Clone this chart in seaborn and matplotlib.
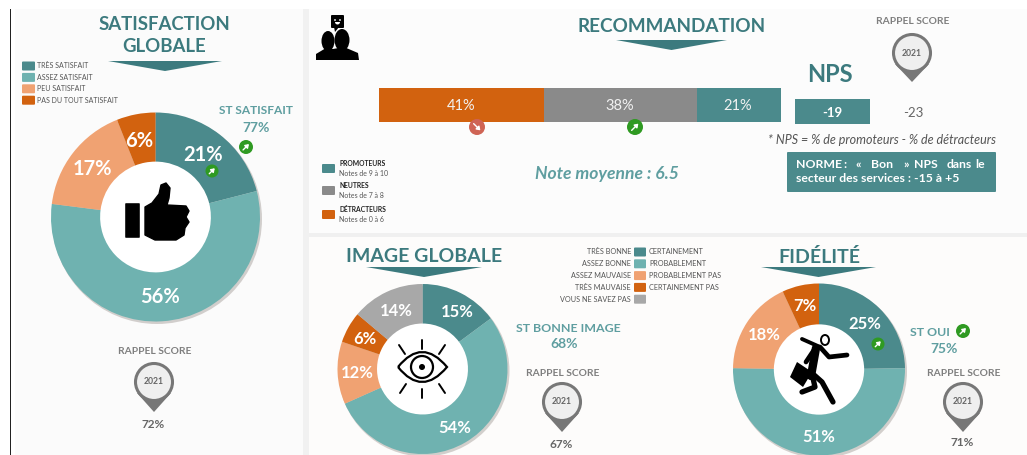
import matplotlib
matplotlib.use("Agg")
import matplotlib.pyplot as plt
from matplotlib.patches import Circle, Ellipse, FancyBboxPatch, PathPatch, Polygon, Rectangle, Wedge
from matplotlib.path import Path
import seaborn as sns

W, H = 1027, 455

TEAL_DARK = "#4b8a8c"
TEAL = "#6fb2b0"
PEACH = "#f0a272"
ORANGE = "#d2620f"
GREY = "#8a8a8a"
LIGHT_GREY = "#a8a8a8"
TITLE = "#3c7a7e"
ST_TEAL = "#5f9ea0"
GREEN = "#2f9a22"
RED = "#cf6455"

# data
satisfaction_labels = ["TRÈS SATISFAIT", "ASSEZ SATISFAIT", "PEU SATISFAIT", "PAS DU TOUT SATISFAIT"]
satisfaction_values = [21, 56, 17, 6]
image_labels = ["TRÈS BONNE", "ASSEZ BONNE", "ASSEZ MAUVAISE", "TRÈS MAUVAISE", "VOUS NE SAVEZ PAS"]
image_values = [15, 54, 12, 6, 14]
fidelite_labels = ["CERTAINEMENT", "PROBABLEMENT", "PROBABLEMENT PAS", "CERTAINEMENT PAS"]
fidelite_values = [25, 51, 18, 7]
nps_labels = ["DÉTRACTEURS", "NEUTRES", "PROMOTEURS"]
nps_values = [41, 38, 21]
nps_notes = ["Notes de 0 à 6", "Notes de 7 à 8", "Notes de 9 à 10"]

sns.set_style("white")
plt.rcParams["font.family"] = ["Lato", "DejaVu Sans"]

fig = plt.figure(figsize=(W / 100, H / 100), dpi=100, facecolor="white")


def px_axes(x0, y0, x1, y1, z):
    ax = fig.add_axes([x0 / W, 1 - y1 / H, (x1 - x0) / W, (y1 - y0) / H], zorder=z)
    ax.patch.set_alpha(0)
    ax.set_axis_off()
    return ax


# background panels
bg = px_axes(0, 0, W, H, 0)
bg.set_xlim(0, W)
bg.set_ylim(H, 0)
bg.add_patch(Rectangle((15, 9), 288, 446, color="#fbfbfb", lw=0))
bg.add_patch(Rectangle((303, 9), 6, 446, color="#f1f1f1", lw=0))
bg.add_patch(Rectangle((309, 9), 718, 224, color="#fcfcfc", lw=0))
bg.add_patch(Rectangle((309, 233), 718, 4, color="#f0f0f0", lw=0))
bg.add_patch(Rectangle((309, 237), 718, 218, color="#fdfcfb", lw=0))
bg.add_patch(Rectangle((9.5, 9), 1.6, 446, color="#222222", lw=0))


def donut(cx, cy, r, hole, values, colors):
    bg.add_patch(Circle((cx + 1.5, cy + 2), r + 0.5, color="#b0aaa6", alpha=0.55, lw=0))
    bg.add_patch(Circle((cx, cy), r * hole + 1, color="white", lw=0, zorder=3))
    ax = px_axes(cx - r, cy - r, cx + r, cy + r, 1)
    ax.pie(values, colors=colors, startangle=90, counterclock=False, radius=1,
           wedgeprops={"width": 1 - hole, "linewidth": 0})
    ax.set_xlim(-1, 1)
    ax.set_ylim(-1, 1)
    return ax


donut(155.5, 217, 104.5, 0.53, satisfaction_values, [TEAL_DARK, TEAL, PEACH, ORANGE])
donut(422.5, 369, 85, 0.535, image_values, [TEAL_DARK, TEAL, PEACH, ORANGE, LIGHT_GREY])
donut(819, 369.5, 86, 0.525, fidelite_values, [TEAL_DARK, TEAL, PEACH, ORANGE])

# stacked NPS bar
bar_ax = px_axes(379, 88, 781, 122, 1)
left = 0
for name, val, col in zip(nps_labels, nps_values, [ORANGE, GREY, TEAL_DARK]):
    sns.barplot(x=[val], y=["nps"], left=left, color=col, saturation=1, width=1, linewidth=0, ax=bar_ax)
    left += val
bar_ax.set_xlim(0, 100)
bar_ax.set_ylim(0.5, -0.5)
bar_ax.set_axis_off()

# overlay in pixel coordinates
ov = px_axes(0, 0, W, H, 3)
ov.set_xlim(0, W)
ov.set_ylim(H, 0)


def txt(x, y, s, size, color="#555555", weight="normal", ha="center", style="normal"):
    ov.text(x, y, s, fontsize=size, color=color, fontweight=weight, ha=ha, va="center", fontstyle=style)


def banner(x0, x1, y):
    ov.add_patch(Polygon([(x0, y), (x1, y), ((x0 + x1) / 2, y + 10)], color=TITLE, lw=0))


def trend(x, y, r=7, color=GREEN, up=True):
    ov.add_patch(Circle((x, y), r, color=color, lw=0))
    d = r * 0.42
    if up:
        a, b = (x - d, y + d), (x + d, y - d)
    else:
        a, b = (x - d, y - d), (x + d, y + d)
    ov.annotate("", xy=b, xytext=a, arrowprops=dict(arrowstyle="-|>,head_width=0.14,head_length=0.2",
                                                     color="white", lw=1, shrinkA=0, shrinkB=0))


def pin(x, y, tip, label_y, value=None):
    ov.add_patch(Polygon([(x - 17, y + 11), (x + 17, y + 11), (x, tip)], color="#777777", lw=0))
    ov.add_patch(Circle((x, y), 18.5, fc="#efefef", ec="#777777", lw=2.2))
    txt(x, y, "2021", 6.2, "#666666", "bold")
    txt(x + 1, label_y[0], "RAPPEL SCORE", 7.4, "#7f7f7f", "bold")
    if value:
        txt(x - 1, label_y[1], value, 8.5, "#666666", "bold")


# satisfaction
txt(164, 25, "SATISFACTION", 13.4, TITLE, "bold")
txt(164, 47, "GLOBALE", 13.4, TITLE, "bold")
banner(108, 222, 61)
for i, (lab, col) in enumerate(zip(satisfaction_labels, [TEAL_DARK, TEAL, PEACH, ORANGE])):
    y = 66 + i * 11.4
    ov.add_patch(FancyBboxPatch((23, y - 3.5), 11, 7, boxstyle="round,pad=1", color=col, lw=0))
    txt(37, y, lab, 5, "#555555", ha="left")
txt(256, 110, "ST SATISFAIT", 8.6, ST_TEAL, "bold")
txt(256, 128, "77%", 10, ST_TEAL, "bold")
trend(246, 147)
trend(212, 171, 6.5)
for (x, y), v in zip([(203, 155), (160, 297), (92, 169), (139, 141)], satisfaction_values):
    txt(x, y, f"{v}%", 14.5, "white", "bold")
pin(154, 382, 412, (352, 425), "72%")

# thumb
ov.add_patch(FancyBboxPatch((126, 204), 13, 33, boxstyle="round,pad=0.8", color="black", lw=0))
ov.add_patch(Polygon([(145, 207), (152, 203), (159, 194), (161, 185), (166, 183), (170, 188), (169, 198),
                      (167, 205), (186, 206), (189, 211), (186, 217), (189, 222), (185, 228), (184, 235),
                      (176, 240), (155, 240), (145, 235)], fc="black", ec="black", lw=1, joinstyle="round"))

# recommandation
txt(672, 27, "RECOMMANDATION", 13.6, TITLE, "bold")
banner(616, 727, 40)
txt(830, 75, "NPS", 17, TITLE, "bold")
pin(912, 53, 82, (21, 0))
ov.add_patch(Rectangle((795, 99), 75, 25, color=TEAL_DARK, lw=0))
txt(832, 113, "-19", 9.5, "white", "bold")
txt(913, 113, "-23", 9.5, "#666666")
txt(882, 140, "* NPS = % de promoteurs - % de détracteurs", 9, "#555555", style="italic")
ov.add_patch(FancyBboxPatch((788, 153), 207, 38, boxstyle="round,pad=1", color=TEAL_DARK, lw=0))
for x, word in zip([796, 843, 856, 871, 903, 914, 947, 975], ["NORME", ":", "«", "Bon", "»", "NPS", "dans", "le"]):
    txt(x, 164, word, 8.8, "white", "bold", ha="left")
txt(796, 179, "secteur des services : -15 à +5", 8.8, "white", "bold", ha="left")
for x, v in zip([461, 620, 738], nps_values):
    txt(x, 106, f"{v}%", 10.5, "#f2f2f2")
trend(477, 127, 8, RED, up=False)
trend(635, 127, 8)
txt(607, 174, "Note moyenne : 6.5", 12.6, ST_TEAL, "bold", style="italic")
for lab, note, col, y in zip(nps_labels[::-1], nps_notes[::-1], [TEAL_DARK, GREY, ORANGE], [168, 190, 214]):
    ov.add_patch(FancyBboxPatch((323, y - 3), 11, 7, boxstyle="round,pad=1", color=col, lw=0))
    txt(339, y - 5, lab, 4.9, "#222222", "bold", ha="left")
    txt(339, y + 5, note, 5, "#555555", ha="left")

# people icon
ov.add_patch(FancyBboxPatch((332, 16), 11, 11, boxstyle="round,pad=1", color="black", lw=0))
ov.add_patch(Polygon([(334, 27), (339, 27), (335, 32)], color="black", lw=0))
ov.add_patch(Circle((335, 20), 0.9, color="white", lw=0))
ov.add_patch(Circle((340, 20), 0.9, color="white", lw=0))
ov.add_patch(Wedge((337.5, 22), 2.5, 0, 180, color="white", lw=0))
ov.add_patch(Ellipse((328, 41), 13, 20, color="black", lw=0))
ov.add_patch(Ellipse((342, 40), 15, 22, color="black", lw=0))
ov.add_patch(Polygon([(316, 60), (316, 54), (326, 48), (333, 49), (344, 47), (358, 53), (359, 60)], color="black", lw=0))

# image globale
txt(424, 256, "IMAGE GLOBALE", 14, TITLE, "bold")
banner(366, 482, 267)
for (x, y), v in zip([(457, 312), (455, 428), (357, 373), (365, 339), (396, 311)], image_values):
    txt(x, y, f"{v}%", 12, "white", "bold")
txt(568, 329, "ST BONNE IMAGE", 8.9, ST_TEAL, "bold")
txt(564, 344, "68%", 10, ST_TEAL, "bold")
pin(562, 402, 432, (373, 444), "67%")

# eye
eye = Path([(398, 367), (422, 337), (447, 367), (422, 397), (398, 367)],
           [Path.MOVETO, Path.CURVE3, Path.CURVE3, Path.CURVE3, Path.CURVE3])
ov.add_patch(PathPatch(eye, fc="none", ec="black", lw=1.6))
ov.add_patch(Circle((422, 367), 11, fc="white", ec="black", lw=1.6))
ov.add_patch(Circle((422, 367), 3, color="black", lw=0))
for a, b in [((422, 340), (422, 349)), ((422, 389), (422, 398)), ((399, 345), (405, 354)), ((445, 345), (439, 354)),
             ((400, 393), (406, 384)), ((445, 393), (439, 384))]:
    ov.plot([a[0], b[0]], [a[1], b[1]], color="black", lw=1.4)

# legend between the two lower donuts
for i, col in enumerate([TEAL_DARK, TEAL, PEACH, ORANGE, LIGHT_GREY]):
    y = 252 + i * 11.8
    ov.add_patch(FancyBboxPatch((635, y - 3.5), 10, 7, boxstyle="round,pad=1", color=col, lw=0))
    txt(631, y, image_labels[i], 5.2, "#555555", ha="right")
    if i < len(fidelite_labels):
        txt(649, y, fidelite_labels[i], 5.2, "#555555", ha="left")

# fidelite
txt(819, 257, "FIDÉLITÉ", 14, TITLE, "bold")
banner(761, 876, 267)
for (x, y), v in zip([(865, 324), (819, 437), (764, 335), (805, 306)], fidelite_values):
    txt(x, y, f"{v}%", 12, "white", "bold")
trend(878, 344, 6.5)
txt(930, 332, "ST OUI", 8.9, ST_TEAL, "bold")
trend(963, 331)
txt(944, 349, "75%", 10, ST_TEAL, "bold")
pin(963, 402, 432, (373, 443), "71%")

# runner
ov.add_patch(Ellipse((825, 340), 8, 10, fc="white", ec="black", lw=1.4))
for pts, lw in [([(802, 339), (820, 347)], 2.8), ([(816, 348), (811, 376)], 6), ([(820, 347), (829, 357), (847, 355)], 3.4),
                ([(813, 374), (822, 382), (833, 402)], 3.8), ([(812, 374), (815, 387), (802, 392)], 3.8),
                ([(814, 350), (806, 362)], 3.4)]:
    ov.plot([p[0] for p in pts], [p[1] for p in pts], color="black", lw=lw, solid_capstyle="round")
ov.add_patch(Polygon([(797, 362), (812, 372), (803, 387), (790, 377)], color="black", lw=0))

fig.savefig("out.png", dpi=100)
